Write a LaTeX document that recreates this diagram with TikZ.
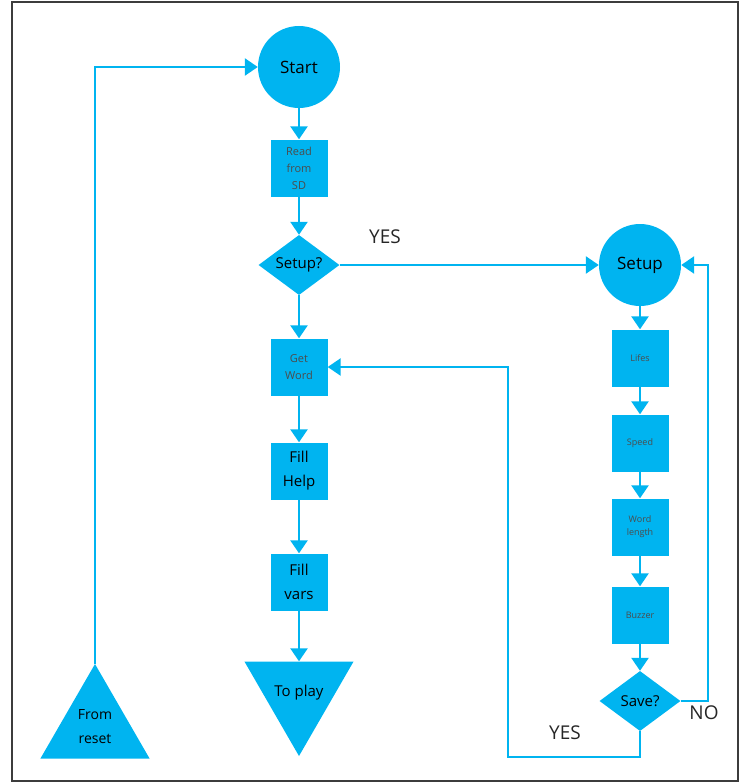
\documentclass[tikz,border=0pt]{standalone}
\usepackage{fontspec}
\setmainfont{Open Sans}
\usetikzlibrary{shapes.geometric,arrows.meta}
\definecolor{flowcyan}{RGB}{0,180,240}
\definecolor{frameg}{RGB}{60,60,60}
\tikzset{
  flowline/.style={draw=flowcyan,line width=2.5pt,line join=miter},
  flowarrow/.style={flowline,-{Triangle[length=13pt,width=17pt]}},
  procbox/.style={rectangle,fill=flowcyan,minimum width=57pt,minimum height=57pt,inner sep=0pt,align=center},
  termcirc/.style={circle,fill=flowcyan,minimum size=82pt,inner sep=0pt,font=\fontsize{17}{20}\selectfont},
  decide/.style={diamond,fill=flowcyan,minimum width=81pt,minimum height=60pt,inner sep=0pt,aspect=1.35,font=\fontsize{15}{18}\selectfont},
  tri/.style={regular polygon,regular polygon sides=3,fill=flowcyan,minimum size=126pt,inner sep=0pt,align=center},
  tinytext/.style={font=\fontsize{9}{13}\selectfont,text=black!70},
  smalltext/.style={font=\fontsize{11}{17}\selectfont,text=black!70},
  bigtext/.style={font=\fontsize{15}{24}\selectfont},
  lbl/.style={font=\fontsize{19}{22}\selectfont,text=black!85}
}
\begin{document}
\begin{tikzpicture}[x=1pt,y=-1pt]
  \useasboundingbox (0,0) rectangle (746,784);
  \draw[frameg,line width=1.5pt] (12,2) rectangle (738,781);
  % main column
  \node[termcirc] (start) at (299,67) {Start};
  \node[procbox,smalltext] (readsd) at (299,168) {Read\\from\\SD};
  \node[decide] (setupq) at (299,265) {Setup?};
  \node[procbox,smalltext] (getword) at (299,367) {Get\\Word};
  \node[procbox,bigtext] (fillhelp) at (299,471) {Fill\\Help};
  \node[procbox,bigtext] (fillvars) at (299,582) {Fill\\vars};
  \node[tri,regular polygon rotate=180,bigtext] (toplay) at (299,693) {\makebox[0pt]{To play}};
  % setup column
  \node[termcirc] (setup) at (640,265) {Setup};
  \node[procbox,tinytext] (lifes) at (640,358) {Lifes};
  \node[procbox,tinytext] (speed) at (640,443) {Speed};
  \node[procbox,tinytext] (wordlen) at (640,527) {Word\\length};
  \node[procbox,tinytext] (buzzer) at (640,615) {Buzzer};
  \node[decide] (saveq) at (640,701) {Save?};
  % reset
  \node[tri,font=\fontsize{14}{24}\selectfont] (reset) at (95,727) {From\\reset};
  % turning points
  \coordinate (noturn) at (708,265);
  \coordinate (yesturn) at (508,757);
  % connectors
  \draw[flowarrow] (start) -- (readsd);
  \draw[flowarrow] (readsd) -- (setupq);
  \draw[flowarrow] (setupq) -- (getword);
  \draw[flowarrow] (getword) -- (fillhelp);
  \draw[flowarrow] (fillhelp) -- (fillvars);
  \draw[flowarrow] (fillvars.south) -- (toplay.north);
  \draw[flowarrow] (setupq.east) -- (setup.west);
  \draw[flowarrow] (setup) -- (lifes);
  \draw[flowarrow] (lifes) -- (speed);
  \draw[flowarrow] (speed) -- (wordlen);
  \draw[flowarrow] (wordlen) -- (buzzer);
  \draw[flowarrow] (buzzer) -- (saveq);
  \draw[flowarrow] (saveq.east) -| (noturn) -- (setup.east);
  \draw[flowarrow] (saveq.south) |- (yesturn) |- (getword.east);
  \draw[flowarrow] (reset.corner 1) |- (start.west);
  % labels
  \node[lbl] (yesup) at (385,237) {YES};
  \node[lbl] (yesdown) at (565,733) {YES};
  \node[lbl] (nolbl) at (704,713) {NO};
\end{tikzpicture}
\end{document}
